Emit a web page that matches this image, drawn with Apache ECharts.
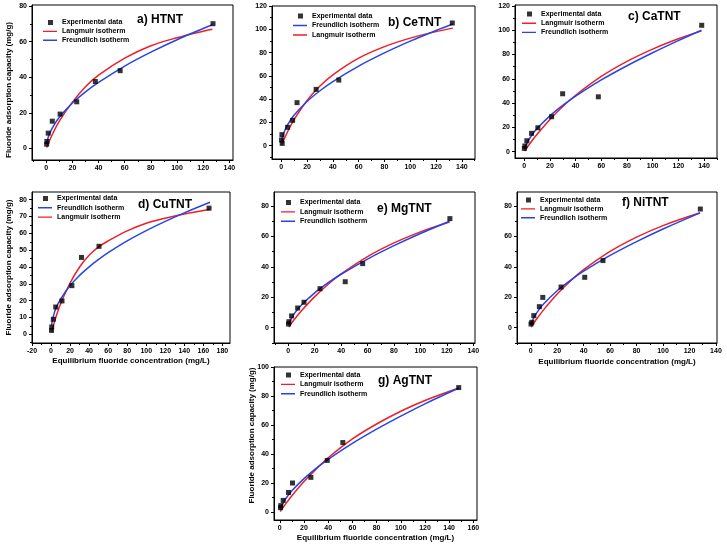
<!DOCTYPE html>
<html><head><meta charset="utf-8">
<script src="https://cdn.jsdelivr.net/npm/echarts@6/dist/echarts.min.js"></script>
<style>html,body{margin:0;padding:0;background:#fff}#c{width:727px;height:546px}</style>
</head><body><div id="c"></div>
<script>
// ---------- DATA ----------
// a) HTNT
const aExpC = [0.3, 0.5, 1.5, 4.6, 10.6, 23.3, 37.5, 56.5, 127.5];
const aExpQ = [2.4, 3.9, 8.6, 15.3, 19.3, 26.2, 37.6, 43.7, 70.1];
const aFitC = [0.3, 1, 2, 5, 10, 20, 30, 40, 60, 80, 100, 120, 127];
const aLangQ = [0.55, 1.8, 3.6, 8.4, 15.4, 26.0, 34.7, 41.2, 50.7, 57.7, 62.2, 65.9, 67.0];
const aFreuQ = [2.6, 5.0, 7.3, 12.0, 17.5, 25.5, 31.8, 37.1, 46.3, 54.1, 61.1, 67.4, 69.5];
// b) CeTNT
const bExpC = [0.2, 0.5, 0.7, 4.9, 8.8, 12.2, 27.0, 44.6, 132.6];
const bExpQ = [4.9, 9.5, 2.0, 15.8, 21.8, 37.0, 48.4, 56.4, 105.4];
const bFitC = [0.3, 1, 2, 5, 10, 20, 30, 40, 60, 80, 100, 120, 133];
const bLangQ = [0.8, 2.6, 5.2, 12.2, 22.6, 38.9, 51.3, 60.9, 75.2, 85.1, 92.4, 98.0, 101.0];
const bFreuQ = [4.0, 7.7, 11.1, 18.1, 26.3, 38.0, 47.2, 55.1, 68.4, 79.7, 89.8, 99.0, 104.5];
// c) CaTNT
const cExpC = [0.1, 0.5, 2.0, 5.7, 10.6, 21.3, 29.9, 57.7, 138.2];
const cExpQ = [2.7, 4.7, 9.0, 15.1, 19.7, 28.8, 47.7, 45.2, 104.1];
const cFitC = [0.3, 1, 2, 5, 10, 20, 30, 40, 60, 80, 100, 120, 138];
const cLangQ = [0.46, 1.5, 3.1, 7.6, 14.3, 26.6, 37.2, 46.5, 62.0, 74.4, 84.5, 93.0, 99.5];
const cFreuQ = [2.1, 4.4, 6.9, 12.3, 19.0, 29.5, 38.1, 45.7, 59.1, 70.8, 81.5, 91.5, 100.0];
// d) CuTNT
const dExpC = [0.5, 0.7, 2.4, 4.9, 11.5, 21.9, 32.0, 50.4, 166.0];
const dExpQ = [2.3, 4.3, 8.9, 16.2, 19.8, 28.9, 45.7, 52.3, 75.0];
const dFitC = [0.5, 1, 2, 5, 10, 20, 30, 40, 50, 60, 80, 100, 120, 140, 167];
const dLangQ = [1.1, 2.2, 4.3, 10.0, 18.0, 30.5, 40.0, 47.0, 52.0, 55.5, 61.5, 66.0, 69.0, 71.5, 74.3];
const dFreuQ = [5.1, 7.1, 9.8, 15.3, 20.9, 29.0, 35.0, 40.1, 44.5, 48.5, 55.5, 61.6, 67.1, 72.2, 78.5];
// e) MgTNT
const eExpC = [0.2, 0.5, 2.5, 7.1, 11.9, 24.0, 43.1, 56.3, 122.3];
const eExpQ = [2.4, 3.9, 7.7, 12.9, 16.7, 25.6, 30.2, 42.1, 71.7];
const eFitC = [0.3, 1, 2, 5, 10, 20, 30, 40, 60, 80, 100, 122];
const eLangQ = [0.36, 1.2, 2.4, 5.8, 11.1, 20.4, 28.4, 35.3, 46.7, 55.7, 63.0, 69.5];
const eFreuQ = [1.7, 3.6, 5.5, 9.7, 14.9, 22.9, 29.4, 35.1, 45.1, 53.9, 61.9, 70.0];
// f) NiTNT
const fExpC = [0.2, 0.8, 2.3, 6.5, 9.1, 22.9, 40.8, 54.6, 128.2];
const fExpQ = [2.4, 3.5, 7.9, 13.8, 19.9, 26.7, 33.1, 44.1, 78.0];
const fFitC = [0.3, 1, 2, 5, 10, 20, 30, 40, 60, 80, 100, 128];
const fLangQ = [0.4, 1.3, 2.6, 6.3, 12.0, 22.1, 30.7, 38.1, 50.1, 59.5, 67.1, 75.5];
const fFreuQ = [1.9, 3.9, 6.0, 10.4, 15.9, 24.3, 31.1, 37.1, 47.5, 56.6, 64.9, 75.5];
// g) AgTNT
const gExpC = [0.6, 0.8, 2.8, 7.2, 10.5, 25.7, 39.2, 52.1, 147.9];
const gExpQ = [3.0, 4.4, 8.0, 13.5, 20.0, 23.9, 35.6, 47.9, 85.8];
const gFitC = [0.3, 1, 2, 5, 10, 20, 30, 40, 60, 80, 100, 120, 148];
const gLangQ = [0.36, 1.2, 2.4, 5.8, 11.2, 21.0, 29.6, 37.4, 50.4, 60.7, 69.5, 76.9, 85.5];
const gFreuQ = [1.5, 3.2, 5.1, 9.3, 14.6, 23.0, 30.1, 36.3, 47.3, 57.1, 66.1, 74.6, 85.5];

// tick labels
const ticks0to140 = [0, 20, 40, 60, 80, 100, 120, 140];
const ticks0to160 = [0, 20, 40, 60, 80, 100, 120, 140, 160];
const ticksM20to180 = [-20, 0, 20, 40, 60, 80, 100, 120, 140, 160, 180];
const ticks0to80 = [0, 20, 40, 60, 80];
const ticks0to100 = [0, 20, 40, 60, 80, 100];
const ticks0to120 = [0, 20, 40, 60, 80, 100, 120];
const ticks0to80by10 = [0, 10, 20, 30, 40, 50, 60, 70, 80];

const panelTitles = ['a) HTNT', 'b) CeTNT', 'c) CaTNT', 'd) CuTNT', 'e) MgTNT', 'f) NiTNT', 'g) AgTNT'];
const EXP = 'Experimental data', LANG = 'Langmuir isotherm', FREU = 'Freundlich isotherm';
const yTitle = 'Fluoride adsorption capacity (mg/g)';
const xTitle = 'Equilibrium fluoride concentration (mg/L)';

// ---------- LAYOUT ----------
const FONT = '"Liberation Sans", Arial, Helvetica, sans-serif';
const RED = '#ee1f27', BLUE = '#2545e8';
function minorBetween(ticks, lo, hi) {
  const step = ticks[1] - ticks[0], out = [];
  for (let v = ticks[0] - step / 2; v <= hi; v += step) if (v >= lo && v <= hi) out.push(v);
  return out;
}
const panels = [
  {exp:[aExpC,aExpQ], fit:[aFitC,aLangQ,aFreuQ], grid:[32,5,201,155], x:[-10.9,142.8], y:[-6.5,80.6], xt:ticks0to140, yt:ticks0to80,
   legend:[43,19,1.9], order:[EXP,LANG,FREU], title:[137,13.5], yName:19, yPad:[0,15,0,0]},
  {exp:[bExpC,bExpQ], fit:[bFitC,bLangQ,bFreuQ], grid:[272,6,203,153], x:[-7.2,150.2], y:[-11.4,120], xt:ticks0to140, yt:ticks0to120,
   legend:[293,12.5,2.5], order:[EXP,FREU,LANG], title:[388,16.5]},
  {exp:[cExpC,cExpQ], fit:[cFitC,cLangQ,cFreuQ], grid:[515,5,202,153], x:[-7.2,150.1], y:[-5.2,120.8], xt:ticks0to140, yt:ticks0to120,
   legend:[522,10.5,2.2], order:[EXP,LANG,FREU], title:[628,11]},
  {exp:[dExpC,dExpQ], fit:[dFitC,dLangQ,dFreuQ], grid:[32,192,198,151], x:[-20,188], y:[-5.2,84.6], xt:ticksM20to180, yt:ticks0to80by10,
   legend:[38,195,2.3], order:[EXP,FREU,LANG], title:[138,198.5], yName:19, yPad:[0,0,0,0], xName:13.5},
  {exp:[eExpC,eExpQ], fit:[eFitC,eLangQ,eFreuQ], grid:[274,192,201,151], x:[-10.8,141.3], y:[-10.1,89.2], xt:ticks0to140, yt:ticks0to80,
   legend:[281,199,2.4], order:[EXP,LANG,FREU], title:[377,202.5]},
  {exp:[fExpC,fExpQ], fit:[fFitC,fLangQ,fFreuQ], grid:[517,192,200,151], x:[-10.4,140.8], y:[-10.1,89.2], xt:ticks0to140, yt:ticks0to80,
   legend:[521,196.5,1.9], order:[EXP,LANG,FREU], title:[622,197], xName:15},
  {exp:[gExpC,gExpQ], fit:[gFitC,gLangQ,gFreuQ], grid:[274,367,203,153], x:[-4.8,163], y:[-5.5,100], xt:ticks0to160, yt:ticks0to100,
   legend:[281,371.5,2.4], order:[EXP,LANG,FREU], title:[378,375], yName:18, yPad:[0,0,0,16], xName:13.5}
];

const zip = (a, b) => a.map((v, i) => [v, b[i]]);
const txt = {color:'#000', fontFamily:FONT, fontWeight:'bold'};
const option = {animation:false, backgroundColor:'#fff', grid:[], xAxis:[], yAxis:[], series:[], legend:[], title:[]};
const squareIcon = 'path://M0,0L0.01,0M14,5L13.99,5M5,0L10,0L10,5L5,5Z';
const lineIcon = 'path://M0,0L0.01,0M14,5L13.99,5M0,1.8L14,1.8L14,3.2L0,3.2Z';

panels.forEach((p, i) => {
  option.grid.push({left:p.grid[0], top:p.grid[1], width:p.grid[2], height:p.grid[3], show:true,
    borderColor:'#000', borderWidth:1, backgroundColor:'transparent', containLabel:false});
  const mainX = {type:'value', gridIndex:i, min:p.x[0], max:p.x[1], position:'bottom',
    axisLine:{show:true, onZero:false, lineStyle:{color:'#000', width:1}},
    axisTick:{show:true, inside:false, length:3, customValues:p.xt, lineStyle:{color:'#000', width:1}},
    axisLabel:{customValues:p.xt, margin:5, fontSize:7, ...txt},
    splitLine:{show:false}, nameMoveOverlap:false};
  if (p.xName !== undefined) Object.assign(mainX, {name:xTitle, nameLocation:'middle', nameGap:p.xName,
    nameTextStyle:{fontSize:8, ...txt}});
  const minorX = {type:'value', gridIndex:i, min:p.x[0], max:p.x[1], position:'bottom',
    axisLine:{show:false, onZero:false}, axisLabel:{show:false}, splitLine:{show:false},
    axisTick:{show:true, inside:false, length:2, customValues:minorBetween(p.xt, p.x[0], p.x[1]), lineStyle:{color:'#000', width:1}}};
  const mainY = {type:'value', gridIndex:i, min:p.y[0], max:p.y[1], position:'left',
    axisLine:{show:true, onZero:false, lineStyle:{color:'#000', width:1}},
    axisTick:{show:true, inside:false, length:3, customValues:p.yt, lineStyle:{color:'#000', width:1}},
    axisLabel:{customValues:p.yt, margin:5, fontSize:7, ...txt},
    splitLine:{show:false}, nameMoveOverlap:false};
  if (p.yName !== undefined) Object.assign(mainY, {name:yTitle, nameLocation:'middle', nameGap:p.yName,
    nameTextStyle:{fontSize:8, padding:p.yPad, ...txt}});
  const minorY = {type:'value', gridIndex:i, min:p.y[0], max:p.y[1], position:'left',
    axisLine:{show:false, onZero:false}, axisLabel:{show:false}, splitLine:{show:false},
    axisTick:{show:true, inside:false, length:2, customValues:minorBetween(p.yt, p.y[0], p.y[1]), lineStyle:{color:'#000', width:1}}};
  option.xAxis.push(mainX, minorX);
  option.yAxis.push(mainY, minorY);
  const xi = 2 * i, yi = 2 * i;
  option.series.push(
    {type:'line', name:LANG, xAxisIndex:xi, yAxisIndex:yi, data:zip(p.fit[0], p.fit[1]), symbol:'none',
     smooth:0.35, lineStyle:{color:RED, width:1.5}, itemStyle:{color:RED}, z:3},
    {type:'line', name:FREU, xAxisIndex:xi, yAxisIndex:yi, data:zip(p.fit[0], p.fit[2]), symbol:'none',
     smooth:0.35, lineStyle:{color:BLUE, width:1.5}, itemStyle:{color:BLUE}, z:3},
    {type:'scatter', name:EXP, xAxisIndex:xi, yAxisIndex:yi, data:zip(p.exp[0], p.exp[1]), symbol:'rect',
     symbolSize:5, itemStyle:{color:'#000'}, z:4}
  );
  option.legend.push({left:p.legend[0], top:p.legend[1], orient:'vertical', padding:0, itemGap:p.legend[2],
    itemWidth:14, itemHeight:5, selectedMode:false,
    data:p.order.map(n => n === EXP ? {name:n, icon:squareIcon, itemStyle:{color:'#000'}}
      : {name:n, icon:lineIcon, itemStyle:{color:n === LANG ? RED : BLUE, borderWidth:0}}),
    textStyle:{fontSize:7, ...txt}});
  option.title.push({text:panelTitles[i], left:p.title[0], top:p.title[1], padding:0,
    textStyle:{fontSize:12, ...txt}});
});

const chart = echarts.init(document.getElementById('c'), null, {renderer:'canvas'});
chart.setOption(option);
</script></body></html>
